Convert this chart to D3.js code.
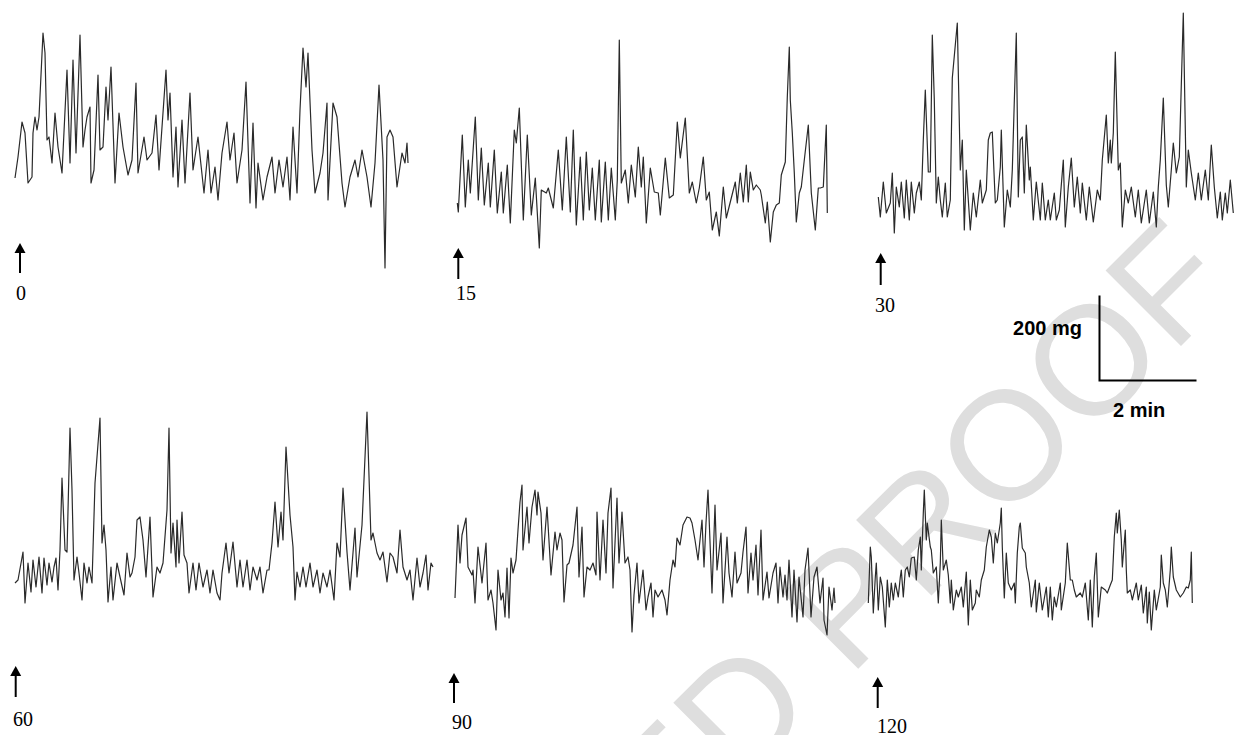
<!DOCTYPE html>
<html>
<head>
<meta charset="utf-8">
<script src="https://cdn.jsdelivr.net/npm/d3@7"></script>
<style>
  html, body { margin: 0; padding: 0; background: #fff; }
  svg { display: block; }
</style>
</head>
<body>
<svg id="chart" width="1234" height="735"></svg>
<script>
// ---- DATA: recorded tension traces, [time, tension] in recorder units
// (85 tension units = 200 mg, 97 time units = 2 min), read from the figure ----
const labels = ["0", "15", "30", "60", "90", "120"];

const trace0 = [[0,32],[3,53],[7,88],[10,77],[13,27],[17,33],[18,77],[20,93],[22,80],[24,93],[28,177],[30,157],[32,70],[34,73],[37,47],[40,97],[43,63],[47,37],[52,140],[55,47],[58,150],[61,57],[65,175],[68,63],[70,80],[72,93],[75,103],[76,27],[79,40],[83,135],[85,60],[88,63],[91,123],[93,90],[96,143],[100,27],[104,97],[108,63],[113,35],[117,50],[121,127],[123,37],[129,73],[132,50],[137,57],[141,95],[144,40],[151,140],[153,90],[155,117],[158,33],[161,83],[163,23],[167,90],[170,27],[175,117],[178,40],[183,73],[189,17],[193,60],[196,17],[200,43],[203,10],[207,57],[212,88],[215,50],[219,77],[222,27],[227,60],[231,128],[235,7],[238,87],[241,2],[243,47],[248,10],[252,33],[257,53],[260,17],[264,50],[268,23],[272,53],[275,10],[278,83],[282,17],[285,100],[288,162],[291,123],[293,157],[297,60],[300,17],[305,37],[308,57],[312,107],[313,10],[318,107],[322,93],[327,27],[330,3],[335,33],[340,50],[343,33],[347,60],[352,33],[356,3],[360,47],[364,125],[368,50],[370,-58],[372,73],[375,80],[378,73],[382,23],[387,57],[390,47],[392,67],[393,47]];

const trace15 = [[0,57],[1,48],[5,125],[8,53],[11,100],[13,67],[18,143],[21,60],[24,112],[27,55],[31,97],[33,53],[37,110],[40,47],[44,88],[46,47],[50,95],[53,37],[57,130],[59,117],[62,152],[66,40],[70,125],[74,45],[78,82],[82,12],[84,70],[89,67],[91,72],[96,52],[101,110],[105,50],[109,123],[113,48],[116,130],[119,35],[123,103],[126,40],[129,108],[132,50],[135,92],[138,40],[142,100],[144,38],[148,98],[151,40],[154,92],[158,40],[160,80],[162,220],[164,77],[168,90],[171,57],[174,95],[178,63],[181,113],[184,73],[186,103],[189,37],[193,92],[197,68],[201,67],[203,45],[208,102],[212,62],[216,65],[220,138],[223,102],[228,142],[232,67],[235,78],[239,57],[242,72],[246,103],[249,60],[252,68],[255,30],[259,48],[262,24],[266,73],[269,42],[273,58],[278,78],[280,57],[283,87],[286,58],[289,95],[291,58],[293,88],[296,70],[299,75],[303,70],[304,65],[308,37],[310,58],[313,18],[316,48],[319,55],[322,57],[324,85],[328,98],[330,163],[332,213],[333,160],[335,127],[337,87],[339,38],[342,67],[344,73],[347,100],[351,135],[354,67],[358,30],[361,72],[363,72],[366,73],[369,135],[370,47]];

const trace30 = [[0,43],[2,23],[5,58],[8,27],[12,37],[14,67],[16,7],[18,53],[21,33],[23,58],[26,22],[28,60],[31,20],[33,58],[36,27],[38,47],[41,58],[43,40],[45,100],[47,150],[50,68],[52,68],[54,205],[56,140],[58,37],[60,63],[62,40],[64,23],[67,57],[69,23],[72,40],[74,162],[79,217],[82,70],[84,100],[86,10],[88,70],[92,10],[95,47],[98,23],[102,60],[104,37],[108,50],[110,100],[112,107],[114,108],[117,37],[119,40],[122,73],[123,110],[126,13],[129,50],[132,33],[134,70],[138,207],[140,43],[142,100],[144,103],[146,47],[148,115],[151,60],[152,73],[155,20],[158,58],[162,20],[164,57],[167,20],[170,40],[172,20],[176,47],[178,20],[181,30],[185,80],[187,13],[190,53],[193,82],[196,33],[199,63],[202,27],[204,57],[208,20],[211,53],[215,18],[219,50],[222,40],[224,80],[228,125],[230,77],[232,100],[233,77],[235,107],[237,188],[240,70],[242,77],[244,13],[247,50],[250,37],[253,53],[257,23],[260,50],[263,17],[268,50],[271,17],[275,48],[278,13],[280,53],[282,80],[285,142],[288,55],[290,33],[293,70],[295,97],[298,67],[301,83],[305,227],[308,53],[310,90],[313,67],[317,40],[320,67],[323,40],[327,70],[330,40],[333,95],[336,53],[339,22],[342,48],[344,20],[347,47],[349,27],[352,60],[355,27]];

const trace60 = [[0,27],[3,30],[8,58],[10,7],[13,47],[16,18],[18,50],[21,23],[24,53],[27,17],[29,52],[32,25],[34,47],[37,28],[39,43],[41,52],[43,20],[45,60],[47,132],[50,60],[52,58],[55,182],[57,120],[59,30],[62,53],[64,37],[67,10],[69,47],[72,27],[74,43],[77,27],[80,127],[85,192],[87,67],[89,85],[91,60],[93,8],[96,43],[98,10],[102,47],[105,33],[109,15],[112,57],[115,33],[117,37],[120,53],[122,90],[125,93],[128,70],[131,33],[135,93],[138,13],[142,43],[145,37],[148,47],[152,100],[154,182],[156,57],[158,87],[161,43],[162,90],[164,47],[167,98],[169,55],[172,47],[174,17],[178,47],[181,20],[184,47],[188,23],[192,40],[195,17],[198,40],[202,17],[205,10],[207,37],[211,67],[214,37],[218,68],[222,23],[225,50],[228,23],[232,50],[235,20],[238,43],[242,30],[245,43],[248,17],[252,40],[254,40],[257,67],[260,108],[263,63],[266,98],[268,70],[271,163],[275,95],[278,63],[280,10],[282,38],[285,23],[288,43],[291,23],[295,47],[298,23],[302,40],[305,17],[308,37],[312,23],[315,40],[319,10],[322,67],[325,53],[328,122],[332,58],[335,20],[340,82],[342,33],[347,85],[352,198],[356,70],[358,77],[362,57],[365,50],[368,58],[372,28],[375,57],[378,53],[382,37],[385,80],[388,43],[392,30],[395,40],[398,10],[402,52],[405,23],[408,37],[411,55],[413,20],[416,47],[418,43]];

const trace90 = [[0,42],[3,115],[5,77],[7,105],[11,122],[13,73],[17,65],[18,70],[20,37],[23,93],[27,57],[28,67],[31,97],[33,40],[36,50],[38,37],[41,10],[43,70],[46,40],[48,47],[50,23],[52,72],[54,22],[56,82],[58,67],[61,80],[63,110],[65,138],[67,155],[68,90],[72,133],[74,97],[77,133],[80,150],[82,125],[83,148],[86,127],[88,80],[92,133],[96,65],[100,108],[102,90],[105,107],[107,100],[109,38],[112,75],[114,77],[118,95],[122,133],[124,63],[127,113],[129,43],[132,73],[135,70],[138,77],[141,65],[142,128],[145,60],[148,120],[151,67],[153,127],[156,152],[158,52],[162,142],[164,77],[167,128],[170,77],[173,83],[175,70],[177,8],[179,45],[182,77],[184,37],[188,70],[191,30],[193,43],[196,57],[198,23],[200,50],[203,43],[207,50],[210,40],[212,25],[215,60],[218,80],[220,73],[222,102],[225,95],[228,115],[232,123],[235,122],[237,117],[240,100],[243,80],[247,120],[249,73],[251,117],[253,150],[257,47],[260,135],[262,70],[266,107],[268,37],[272,103],[274,67],[277,43],[280,88],[282,57],[286,67],[288,88],[291,113],[293,47],[296,87],[298,60],[301,95],[303,45],[306,110],[308,40],[312,68],[314,42],[318,67],[321,77],[323,37],[325,73],[328,43],[330,65],[332,40],[334,80],[337,23],[339,70],[342,18],[344,63],[348,23],[350,70],[353,92],[356,23],[359,63],[362,73],[365,37],[368,62],[369,20],[372,5],[374,53],[377,30],[379,52],[380,37]];

const trace120 = [[0,37],[2,93],[3,83],[5,27],[7,63],[8,77],[10,30],[12,63],[14,53],[17,13],[19,60],[21,33],[23,57],[25,40],[27,57],[30,43],[32,63],[33,70],[35,43],[37,70],[39,73],[41,63],[43,82],[46,83],[48,60],[50,90],[52,103],[53,70],[55,127],[56,150],[58,100],[59,117],[62,93],[63,90],[65,67],[68,73],[70,37],[72,77],[73,120],[75,70],[78,80],[80,65],[82,37],[83,60],[85,30],[88,50],[90,43],[93,53],[95,33],[98,68],[100,15],[102,60],[104,30],[107,37],[108,50],[111,43],[113,60],[116,70],[118,93],[121,110],[123,103],[125,77],[127,107],[129,97],[132,117],[133,132],[134,93],[136,42],[138,87],[140,57],[143,50],[146,57],[147,37],[149,87],[151,113],[152,117],[154,92],[157,87],[158,73],[161,57],[163,33],[167,60],[168,28],[171,57],[174,30],[178,53],[180,23],[182,53],[184,20],[186,43],[188,33],[192,57],[193,30],[197,57],[199,97],[202,60],[204,60],[206,50],[208,43],[212,47],[214,43],[217,57],[220,20],[222,60],[224,13],[226,63],[228,87],[230,23],[233,53],[237,50],[239,47],[242,55],[244,60],[246,103],[248,127],[249,107],[251,130],[253,100],[254,73],[257,110],[258,70],[259,47],[262,50],[264,40],[268,57],[270,40],[273,55],[275,27],[278,53],[279,17],[281,48],[283,10],[286,50],[288,30],[292,53],[293,85],[295,57],[297,50],[299,33],[302,70],[303,93],[305,63],[308,50],[312,43],[315,47],[318,53],[320,52],[322,60],[323,88],[324,37]];

const traces = [trace0, trace15, trace30, trace60, trace90, trace120];

// scale bar definition (physical units and their size in recorder units)
const scaleBar = { mg: 200, mgUnits: 85, minutes: 2, minUnits: 97 };
const scaleBarLabels = ["200 mg", "2 min"];
const watermarkText = "UNCORRECTED PROOF";

// ---- LAYOUT (pixel placement of each trace panel) ----
const layout = [
  { x0: 15,    yBase: 210, ax: 20,    aTop: 243, aBot: 273, lx: 16,  ly: 300 },
  { x0: 457.3, yBase: 260, ax: 458.3, aTop: 248, aBot: 279, lx: 456, ly: 300 },
  { x0: 878.3, yBase: 240, ax: 880.7, aTop: 253, aBot: 285, lx: 875, ly: 311.5 },
  { x0: 15,    yBase: 610, ax: 15.7,  aTop: 666, aBot: 697, lx: 13,  ly: 726 },
  { x0: 455,   yBase: 640, ax: 454,   aTop: 673, aBot: 703, lx: 452, ly: 729 },
  { x0: 868.3, yBase: 640, ax: 877.7, aTop: 677, aBot: 708, lx: 877, ly: 733 }
];

const svg = d3.select("#chart");

// watermark (behind everything)
svg.append("text")
  .attr("transform", "translate(1239,288) rotate(-45)")
  .attr("text-anchor", "end")
  .attr("font-family", "Liberation Sans, Arial, sans-serif")
  .attr("font-size", 155)
  .attr("fill", "#dedede")
  .text(watermarkText);

const line = d3.line().curve(d3.curveLinear);

traces.forEach((data, i) => {
  const L = layout[i];
  const tMax = d3.max(data, d => d[0]);
  const x = d3.scaleLinear().domain([0, tMax]).range([L.x0, L.x0 + tMax]);
  const y = d3.scaleLinear().domain([0, 100]).range([L.yBase, L.yBase - 100]);
  const g = svg.append("g");
  g.append("path")
    .datum(data)
    .attr("d", line.x(d => x(d[0])).y(d => y(d[1])))
    .attr("fill", "none")
    .attr("stroke", "#2a2a2a")
    .attr("stroke-width", 1.2)
    .attr("stroke-linejoin", "round");

  // arrow marking the sampling time
  g.append("line")
    .attr("x1", L.ax).attr("x2", L.ax)
    .attr("y1", L.aTop + 8).attr("y2", L.aBot)
    .attr("stroke", "#000").attr("stroke-width", 2);
  g.append("path")
    .attr("d", `M${L.ax},${L.aTop} L${L.ax - 5.5},${L.aTop + 10} L${L.ax + 5.5},${L.aTop + 10} Z`)
    .attr("fill", "#000");
  g.append("text")
    .attr("x", L.lx).attr("y", L.ly)
    .attr("font-family", "Liberation Serif, Times New Roman, serif")
    .attr("font-size", 20)
    .attr("fill", "#000")
    .text(labels[i]);
});

// scale bar
const sbX = 1099.5, sbY = 380.5;
const yMg = d3.scaleLinear().domain([0, scaleBar.mg]).range([0, scaleBar.mgUnits]);
const xMin = d3.scaleLinear().domain([0, scaleBar.minutes]).range([0, scaleBar.minUnits]);
const sb = svg.append("g");
sb.append("path")
  .attr("d", `M${sbX},${sbY - yMg(scaleBar.mg)} L${sbX},${sbY} L${sbX + xMin(scaleBar.minutes)},${sbY}`)
  .attr("fill", "none").attr("stroke", "#000").attr("stroke-width", 2);
sb.append("text")
  .attr("x", 1082).attr("y", 335)
  .attr("text-anchor", "end")
  .attr("font-family", "Liberation Sans, Arial, sans-serif")
  .attr("font-weight", "bold").attr("font-size", 20)
  .text(scaleBarLabels[0]);
sb.append("text")
  .attr("x", 1113).attr("y", 417)
  .attr("font-family", "Liberation Sans, Arial, sans-serif")
  .attr("font-weight", "bold").attr("font-size", 20)
  .text(scaleBarLabels[1]);
</script>
</body>
</html>
